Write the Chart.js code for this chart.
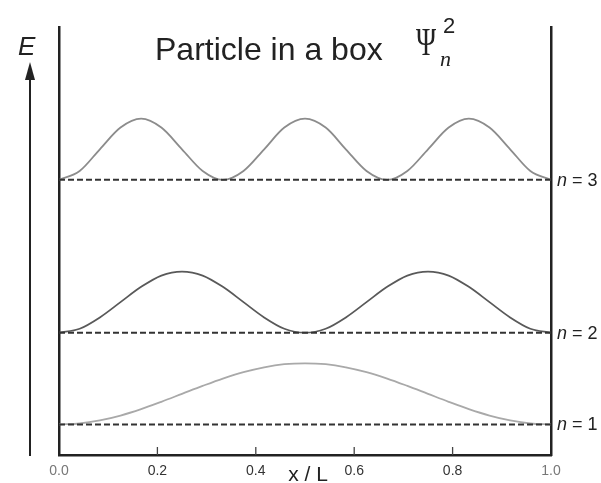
<!DOCTYPE html>
<html>
<head>
<meta charset="utf-8">
<script src="https://cdn.jsdelivr.net/npm/chart.js@4/dist/chart.umd.min.js"></script>
<style>
  html, body { margin: 0; padding: 0; background: #fff; }
</style>
</head>
<body>
<canvas id="chart-box" width="601" height="483"></canvas>
<script>
// sample positions along the box, x / L
var X_POS = [0, 0.042, 0.083, 0.125, 0.167, 0.208, 0.25, 0.292, 0.333, 0.375, 0.417, 0.458,
  0.5, 0.542, 0.583, 0.625, 0.667, 0.708, 0.75, 0.792, 0.833, 0.875, 0.917, 0.958, 1];

// energy of each level (E units) and its label
var LEVELS = [1, 4, 9];
var LEVEL_NAMES = ['1', '2', '3'];

// psi^2 height above its own level
var PSI2_N1 = [0, 0.03, 0.13, 0.29, 0.5, 0.74, 1.0, 1.26, 1.5, 1.71, 1.87, 1.97,
  2.0, 1.97, 1.87, 1.71, 1.5, 1.26, 1.0, 0.74, 0.5, 0.29, 0.13, 0.03, 0];
var PSI2_N2 = [0, 0.13, 0.5, 1.0, 1.5, 1.87, 2.0, 1.87, 1.5, 1.0, 0.5, 0.13,
  0, 0.13, 0.5, 1.0, 1.5, 1.87, 2.0, 1.87, 1.5, 1.0, 0.5, 0.13, 0];
var PSI2_N3 = [0, 0.29, 1.0, 1.71, 2.0, 1.71, 1.0, 0.29, 0, 0.29, 1.0, 1.71,
  2.0, 1.71, 1.0, 0.29, 0, 0.29, 1.0, 1.71, 2.0, 1.71, 1.0, 0.29, 0];

var X_TICKS = [0, 0.2, 0.4, 0.6, 0.8, 1.0];
var CURVE_COLORS = ['#a9a9a9', '#595959', '#8c8c8c'];

var SANS = '"Liberation Sans", Arial, sans-serif';
var SERIF = '"Liberation Serif", "Times New Roman", serif';

function curve(level, heights, color) {
  return {
    data: X_POS.map(function (x, i) { return { x: x, y: level + heights[i] }; }),
    borderColor: color,
    borderWidth: 1.8,
    pointRadius: 0,
    cubicInterpolationMode: 'monotone',
    fill: false,
    order: 2
  };
}

function levelLine(level) {
  return {
    data: [{ x: 0, y: level }, { x: 1, y: level }],
    borderColor: '#333',
    borderWidth: 2,
    borderDash: [6, 3],
    pointRadius: 0,
    fill: false,
    order: 1
  };
}

var datasets = [
  curve(LEVELS[0], PSI2_N1, CURVE_COLORS[0]),
  curve(LEVELS[1], PSI2_N2, CURVE_COLORS[1]),
  curve(LEVELS[2], PSI2_N3, CURVE_COLORS[2])
].concat(LEVELS.map(levelLine));

/** Title, energy arrow, level names, x / L and the inner tick marks. */
var boxDecor = {
  id: 'boxDecor',
  afterDraw: function (chart) {
    var ctx = chart.ctx;
    var area = chart.chartArea;
    var xs = chart.scales.x;
    var ys = chart.scales.y;
    ctx.save();

    // inner tick marks on the floor of the box
    ctx.strokeStyle = '#444';
    ctx.lineWidth = 1.3;
    X_TICKS.slice(1, -1).forEach(function (v) {
      var px = xs.getPixelForValue(v);
      ctx.beginPath();
      ctx.moveTo(px, area.bottom);
      ctx.lineTo(px, area.bottom - 8);
      ctx.stroke();
    });

    ctx.fillStyle = '#222';
    ctx.textBaseline = 'alphabetic';

    // title
    ctx.textAlign = 'left';
    ctx.font = '32px ' + SANS;
    ctx.fillText('Particle in a box', 155, 60);

    // psi_n^2, narrow psi
    ctx.save();
    ctx.translate(416, 55);
    ctx.scale(0.68, 1);
    ctx.font = '40px ' + SERIF;
    ctx.fillText('\u03A8', 0, 0);
    ctx.restore();
    ctx.font = 'italic 22px ' + SERIF;
    ctx.fillText('n', 440, 66);
    ctx.font = '22px ' + SANS;
    ctx.fillText('2', 443, 33);

    // E with arrow
    ctx.font = 'italic 26px ' + SANS;
    ctx.fillText('E', 18, 55);
    ctx.strokeStyle = '#222';
    ctx.lineWidth = 2;
    ctx.beginPath();
    ctx.moveTo(30, area.bottom + 1);
    ctx.lineTo(30, 76);
    ctx.stroke();
    ctx.beginPath();
    ctx.moveTo(30, 62);
    ctx.lineTo(25, 80);
    ctx.lineTo(35, 80);
    ctx.closePath();
    ctx.fill();

    // level names at the right wall
    LEVELS.forEach(function (lv, i) {
      var py = ys.getPixelForValue(lv) + 6;
      var px = area.right + 6;
      ctx.font = 'italic 18px ' + SANS;
      ctx.fillText('n', px, py);
      var w = ctx.measureText('n').width;
      ctx.font = '18px ' + SANS;
      ctx.fillText(' = ' + LEVEL_NAMES[i], px + w, py);
    });

    // axis title
    ctx.textAlign = 'center';
    ctx.font = '21px ' + SANS;
    ctx.fillText('x / L', 308, 481);

    ctx.restore();
  }
};

function wall(position) {
  return {
    type: 'linear',
    position: position,
    min: 0,
    max: 14,
    grid: { display: false, drawTicks: false, tickLength: 0 },
    border: { display: true, color: '#222', width: 2.5 },
    ticks: { display: false },
    afterFit: function (scale) { scale.width = 0; }
  };
}

var ctx = document.getElementById('chart-box').getContext('2d');
new Chart(ctx, {
  type: 'line',
  data: { datasets: datasets },
  options: {
    responsive: false,
    animation: false,
    layout: { padding: { left: 59, right: 50, top: 27, bottom: 3 } },
    plugins: {
      legend: { display: false },
      tooltip: { enabled: false }
    },
    scales: {
      x: {
        type: 'linear',
        min: 0,
        max: 1,
        afterBuildTicks: function (scale) {
          scale.ticks = X_TICKS.map(function (v) { return { value: v }; });
        },
        afterFit: function (scale) { scale.height = 25; },
        grid: { display: false, drawTicks: false, tickLength: 0 },
        border: { display: true, color: '#222', width: 2.5 },
        ticks: {
          padding: 8,
          maxRotation: 0,
          autoSkip: false,
          font: { family: SANS, size: 14 },
          color: function (c) {
            return (c.tick && (c.tick.value === 0 || c.tick.value === 1)) ? '#777' : '#333';
          },
          callback: function (v) { return Number(v).toFixed(1); }
        }
      },
      y: wall('left'),
      y2: wall('right')
    }
  },
  plugins: [boxDecor]
});
</script>
</body>
</html>
